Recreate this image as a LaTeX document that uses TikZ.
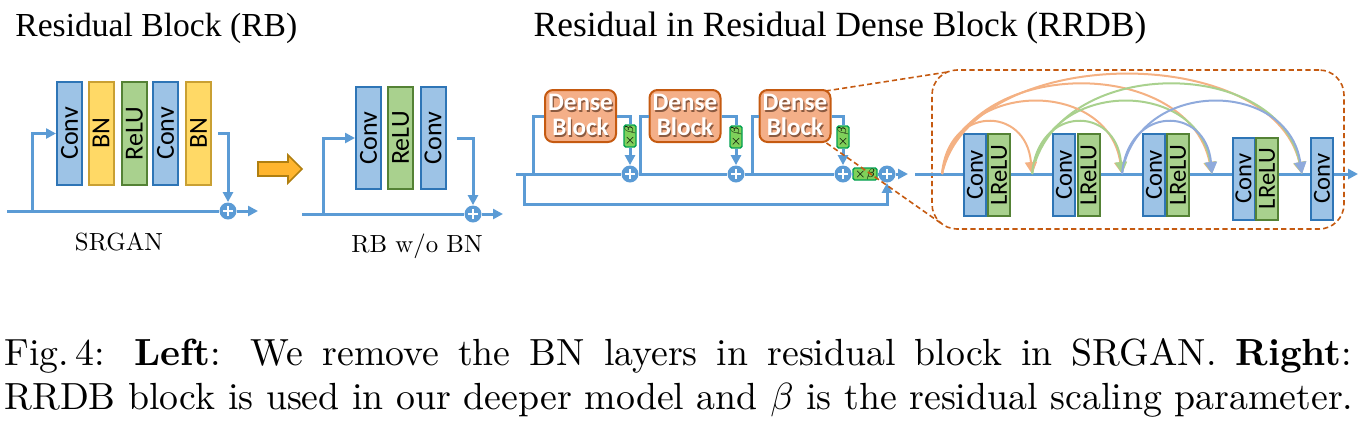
\documentclass[tikz,border=0pt]{standalone}
\usepackage{graphicx}
\usepackage{fontspec}
\newfontfamily\boxfont{Carlito}
\newfontfamily\titlefont{Liberation Serif}
\usetikzlibrary{arrows.meta,calc}
\definecolor{flowc}{HTML}{5B9BD5}
\definecolor{convF}{HTML}{9DC3E6}
\definecolor{convB}{HTML}{2E75B6}
\definecolor{bnF}{HTML}{FFD966}
\definecolor{bnB}{HTML}{C9A033}
\definecolor{reluF}{HTML}{A9D18E}
\definecolor{reluB}{HTML}{548235}
\definecolor{denseF}{HTML}{F4AF88}
\definecolor{denseB}{HTML}{C55A11}
\definecolor{betaF}{HTML}{7FD05A}
\definecolor{betaB}{HTML}{00A050}
\definecolor{goldF}{HTML}{FFB52E}
\definecolor{goldB}{HTML}{B07F10}
\definecolor{arcO}{HTML}{F4B183}
\definecolor{arcG}{HTML}{A9D18E}
\definecolor{arcB}{HTML}{8FAADC}
\definecolor{dshadow}{HTML}{8A5A40}
\newcommand\dtext[1]{\rlap{\hspace{0.6pt}\raisebox{-0.6pt}{\color{dshadow}#1}}{\color{white}#1}}
\newcommand\vlab[1]{\rotatebox{90}{#1}}
\begin{document}
\begin{tikzpicture}[x=0.5pt,y=-0.5pt,
  flow/.style={draw=flowc,line width=1.5pt},
  arr/.style={-{Triangle[length=5pt,width=5pt]}},
  layer/.style={draw,line width=1pt,inner sep=0pt,font={\fontsize{13}{14}\boxfont}},
  convbox/.style={layer,fill=convF,draw=convB},
  bnbox/.style={layer,fill=bnF,draw=bnB},
  relubox/.style={layer,fill=reluF,draw=reluB},
  lsize/.style={minimum width=12.5pt,minimum height=51.5pt},
  rsize/.style={minimum width=11pt,minimum height=41pt,font={\fontsize{12.3}{13}\boxfont}},
  densebox/.style={draw=denseB,fill=denseF,line width=1pt,rounded corners=4pt,
    minimum width=35.5pt,minimum height=26pt,inner sep=0pt,align=center,
    font={\fontsize{12.6}{12.5}\boxfont\bfseries}},
  betabox/.style={draw=betaB,fill=betaF,line width=0.7pt,inner sep=0pt,rounded corners=0.8pt,
    font={\fontsize{6.5}{6.5}\selectfont}},
  plusnode/.style={circle,fill=flowc,minimum size=8.5pt,inner sep=0pt,
    path picture={\draw[white,line width=1pt]
      ([xshift=-2.6pt]path picture bounding box.center) -- ([xshift=2.6pt]path picture bounding box.center)
      ([yshift=-2.6pt]path picture bounding box.center) -- ([yshift=2.6pt]path picture bounding box.center);}},
  arcline/.style={line width=1pt,-{Triangle[length=6pt,width=6pt]}},
  zoomdash/.style={draw=denseB,line width=0.8pt,dash pattern=on 2.6pt off 1.6pt},
  txt/.style={inner sep=0pt}
]
\useasboundingbox (0,0) rectangle (1365,425);

% ---------- titles ----------
\node[txt,anchor=base west] (t1) at (15,36) {\fontsize{16.8}{20}\titlefont Residual Block (RB)};
\node[txt,anchor=base] (t2) at (840,36) {\fontsize{17.7}{20}\titlefont Residual in Residual Dense Block (RRDB)};

% ---------- SRGAN residual block ----------
\node[convbox,lsize] (l1) at (69.5,133.5) {\vlab{Conv}};
\node[bnbox,lsize]   (l2) at (101,133.5) {\vlab{BN}};
\node[relubox,lsize] (l3) at (134.5,133.5) {\vlab{ReLU}};
\node[convbox,lsize] (l4) at (165.5,133.5) {\vlab{Conv}};
\node[bnbox,lsize]   (l5) at (198.5,133.5) {\vlab{BN}};
\node[plusnode] (pl) at (228,211) {};
\coordinate (L0) at (7,211);
\coordinate (Lb) at (32,211);
\coordinate (Lend) at (258,211);
\draw[flow] (L0) -- (pl);
\draw[flow,arr] (pl) -- (Lend);
\draw[flow,arr] (Lb) |- (l1.west);
\draw[flow,arr,shorten <=3pt] (l5.east) -| (pl.north);
\node[txt,anchor=base] (lab1) at (119,250) {\scalebox{1.24}{\fontsize{10}{12}\selectfont SRGAN}};

% ---------- transition arrow ----------
\draw[fill=goldF,draw=goldB,line width=0.8pt] (258,162) -- (288,162) -- (288,155) -- (302,169)
  -- (288,183) -- (288,176) -- (258,176) -- cycle;

% ---------- RB w/o BN ----------
\node[convbox,lsize,minimum height=51pt] (m1) at (368.5,138) {\vlab{Conv}};
\node[relubox,lsize,minimum height=51pt] (m2) at (400.5,138) {\vlab{ReLU}};
\node[convbox,lsize,minimum height=51pt] (m3) at (433,138) {\vlab{Conv}};
\node[plusnode] (pm) at (473,214) {};
\coordinate (M0) at (302,214);
\coordinate (Mb) at (323,214);
\coordinate (Mend) at (503,214);
\draw[flow] (M0) -- (pm);
\draw[flow,arr] (pm) -- (Mend);
\draw[flow,arr] (Mb) |- (m1.west);
\draw[flow,arr,shorten <=5pt] (m3.east) -| (pm.north);
\node[txt,anchor=base] (lab2) at (417,252) {\scalebox{1.24}{\fontsize{10}{12}\selectfont RB w/o BN}};

% ---------- RRDB ----------
\node[densebox] (db1) at (580.5,116) {\dtext{Dense}\\\dtext{Block}};
\node[densebox] (db2) at (685,116) {\dtext{Dense}\\\dtext{Block}};
\node[densebox] (db3) at (795,116) {\dtext{Dense}\\\dtext{Block}};
\node[betabox,minimum width=6pt,minimum height=11pt] (be1) at (630,136) {\vlab{$\times\beta$}};
\node[betabox,minimum width=6pt,minimum height=11pt] (be2) at (736,137) {\vlab{$\times\beta$}};
\node[betabox,minimum width=6pt,minimum height=11pt] (be3) at (843,137) {\vlab{$\times\beta$}};
\node[betabox,minimum width=12pt,minimum height=6pt] (beh) at (865,174) {$\times\beta$};
\node[plusnode] (p1) at (630,174) {};
\node[plusnode] (p2) at (736,174) {};
\node[plusnode] (p3) at (843,174) {};
\node[plusnode] (pf) at (887,174) {};
\coordinate (R0) at (516,174);
\coordinate (Rs) at (524,174);
\coordinate (b1) at (533,174);
\coordinate (b2) at (640,174);
\coordinate (b3) at (752,174);
\coordinate (Rend) at (908,174);
\draw[flow] (R0) -- (p1);
\draw[flow] (p1) -- (p2);
\draw[flow] (p2) -- (p3);
\draw[flow] (p3) -- (beh);
\draw[flow] (beh) -- (pf);
\draw[flow,arr] (pf) -- (Rend);
\draw[flow,arr] (Rs) -- ++(0,30) -| (pf.south);
\draw[flow] (b1) |- (db1.west);
\draw[flow] (b2) |- (db2.west);
\draw[flow] (b3) |- (db3.west);
\draw[flow] (db1.east) -| (be1.north);
\draw[flow] (db2.east) -| (be2.north);
\draw[flow] (db3.east) -| (be3.north);
\draw[flow,arr] (be1.south) -- (p1.north);
\draw[flow,arr] (be2.south) -- (p2.north);
\draw[flow,arr] (be3.south) -- (p3.north);

% ---------- dense block detail ----------
\node[zoomdash,rounded corners=12.5pt,minimum width=206pt,minimum height=79.5pt,inner sep=0pt] (zb) at (1138,149.5) {};
\draw[zoomdash] ($(db3.north east)+(-6,2)$) -- ($(zb.north west)+(15,3)$);
\draw[zoomdash] ($(db3.south east)+(-5,0)$) -- ($(zb.south west)+(12,-5)$);

\node[convbox,rsize] (ca) at (975,175) {\vlab{Conv}};
\node[relubox,rsize] (la) at (999,175) {\vlab{LReLU}};
\node[convbox,rsize] (cb) at (1064,175) {\vlab{Conv}};
\node[relubox,rsize] (lb) at (1088.5,175) {\vlab{LReLU}};
\node[convbox,rsize] (cc) at (1154,175) {\vlab{Conv}};
\node[relubox,rsize] (lc) at (1178,175) {\vlab{LReLU}};
\node[convbox,rsize] (cd) at (1243.5,178.5) {\vlab{Conv}};
\node[relubox,rsize] (ld) at (1267,178.5) {\vlab{LReLU}};
\node[convbox,rsize] (ce) at (1322,178.5) {\vlab{Conv}};
\coordinate (D0) at (915,174);
\coordinate (s0) at (942,174);
\coordinate (s1) at (1032,174);
\coordinate (s2) at (1122,174);
\coordinate (s3) at (1212,174);
\coordinate (s4) at (1302,174);
\coordinate (Dend) at (1358,174);
\draw[flow] (D0) -- (ca.west |- D0);
\draw[flow] (la.east |- D0) -- (cb.west |- D0);
\draw[flow] (lb.east |- D0) -- (cc.west |- D0);
\draw[flow] (lc.east |- D0) -- (cd.west |- D0);
\draw[flow] (ld.east |- D0) -- (ce.west |- D0);
\draw[flow,arr] (ce.east |- D0) -- (Dend);

\foreach \a/\b/\h/\k/\col in {s0/s4/132/30/arcO, s0/s3/119/24/arcO, s1/s4/119/24/arcG,
   s0/s2/96/14/arcO, s1/s3/96/14/arcG, s2/s4/96/14/arcB,
   s0/s1/69/6/arcO, s1/s2/69/6/arcG, s2/s3/69/6/arcB}
  \draw[arcline,draw=\col] (\a) .. controls ($(\a)+(\k,-\h)$) and ($(\b)+(-\k,-\h)$) .. (\b);

% ---------- caption ----------
\node[txt,anchor=base west] (cap1) at (4,365) {\scalebox{1.89}{\fontsize{10}{12}\selectfont\makebox[356.6pt][s]{Fig.\,4: \textbf{Left}: We remove the BN layers in residual block in SRGAN. \textbf{Right}:}}};
\node[txt,anchor=base west] (cap2) at (4,409) {\scalebox{1.89}{\fontsize{10}{12}\selectfont RRDB block is used in our deeper model and $\beta$ is the residual scaling parameter.}};
\end{tikzpicture}
\end{document}
